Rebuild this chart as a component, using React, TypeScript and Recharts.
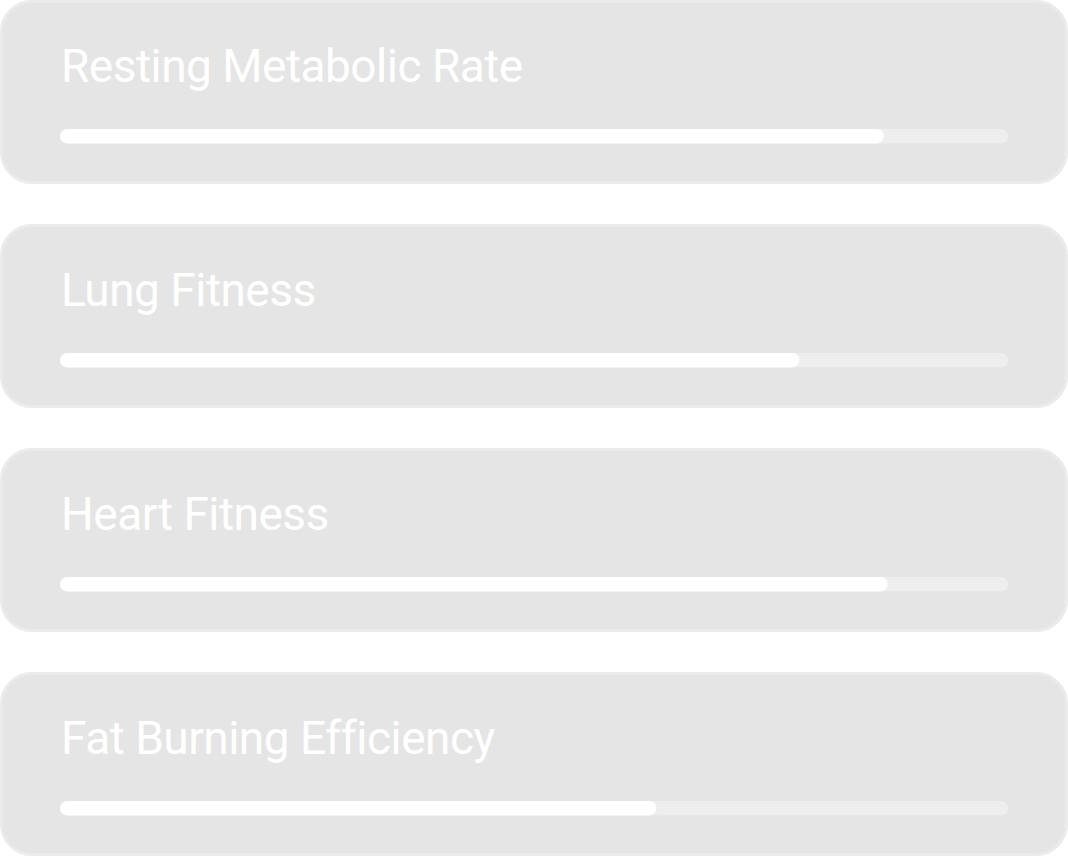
import React from "react";
import { BarChart, Bar, XAxis, YAxis, LabelList } from "recharts";

const categories = [
  "Resting Metabolic Rate",
  "Lung Fitness",
  "Heart Fitness",
  "Fat Burning Efficiency",
];
const values = [86.9, 78, 87.3, 62.9];
const maxValue = 100;

const W = 1068;
const CARD_H = 184;
const GAP = 40;

const TitleLabel = (props: any) => {
  const { x, y, value } = props;
  return (
    <text
      x={Number(x) + 1}
      y={Number(y) - 47}
      fill="#ffffff"
      fontFamily="Roboto, 'Noto Sans', sans-serif"
      fontSize={46}
      letterSpacing={-0.5}
      fontWeight={400}
    >
      {value}
    </text>
  );
};

export default function App() {
  return (
    <div
      style={{
        position: "absolute",
        left: 0,
        top: 0,
        width: W,
        height: 856,
        background: "#ffffff",
      }}
    >
      {categories.map((name, i) => {
        const data = [{ name, value: values[i] }];
        return (
          <div
            key={name}
            style={{
              position: "absolute",
              left: 0,
              top: i * (CARD_H + GAP),
              width: W,
              height: CARD_H,
            }}
          >
            <div
              style={{
                position: "absolute",
                inset: 0,
                background: "#e5e5e5",
                border: "3px solid #ebebeb",
                borderRadius: 32,
                boxSizing: "border-box",
              }}
            />
            <div style={{ position: "absolute", left: 0, top: 0 }}>
              <BarChart
                width={W}
                height={CARD_H}
                data={data}
                layout="vertical"
                margin={{ top: 128, right: 60, bottom: 40, left: 60 }}
              >
                <XAxis type="number" domain={[0, maxValue]} hide />
                <YAxis type="category" dataKey="name" hide />
                <Bar
                  dataKey="value"
                  fill="#ffffff"
                  barSize={16}
                  radius={8}
                  background={{ fill: "#eeeeee", radius: 8 }}
                  isAnimationActive={false}
                >
                  <LabelList dataKey="name" content={TitleLabel} />
                </Bar>
              </BarChart>
            </div>
          </div>
        );
      })}
    </div>
  );
}
